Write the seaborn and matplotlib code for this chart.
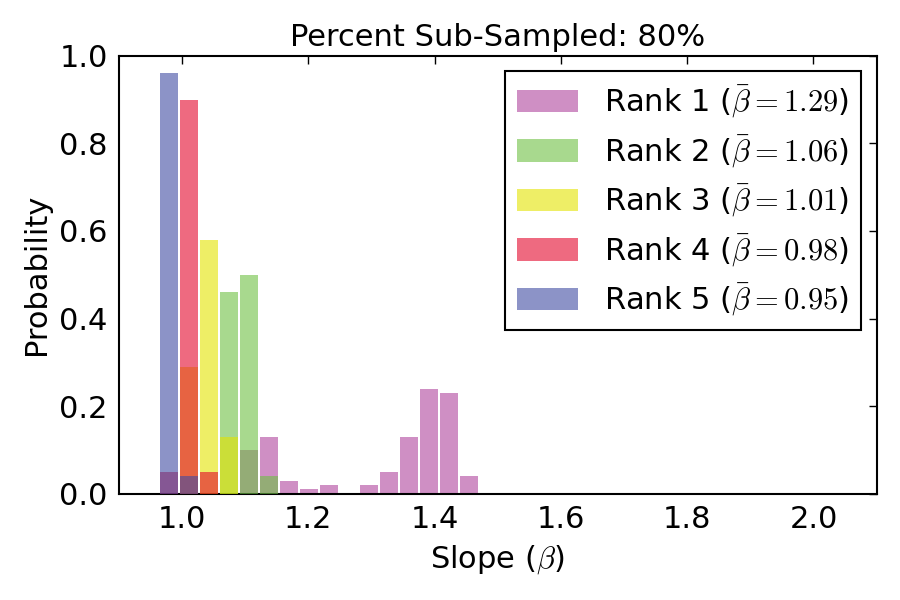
import numpy as np
import pandas as pd
import seaborn as sns
import matplotlib.pyplot as plt
from matplotlib.patches import Patch

# ----- Data (probability per slope bin) -----
bin_start = 0.963
bin_width = 0.0317
n_bins = 16

rank_names = ["Rank 1", "Rank 2", "Rank 3", "Rank 4", "Rank 5"]
rank_means = [1.29, 1.06, 1.01, 0.98, 0.95]
rank1_probs = [0, 0, 0, 0, 0.10, 0.13, 0.03, 0.01, 0.02, 0, 0.02, 0.05, 0.13, 0.24, 0.23, 0.04]
rank2_probs = [0, 0, 0, 0.46, 0.50, 0.04, 0, 0, 0, 0, 0, 0, 0, 0, 0, 0]
rank3_probs = [0, 0.29, 0.58, 0.13, 0, 0, 0, 0, 0, 0, 0, 0, 0, 0, 0, 0]
rank4_probs = [0.05, 0.90, 0.05, 0, 0, 0, 0, 0, 0, 0, 0, 0, 0, 0, 0, 0]
rank5_probs = [0.96, 0.04, 0, 0, 0, 0, 0, 0, 0, 0, 0, 0, 0, 0, 0, 0]
rank_colors = ["#af449d", "#6ec143", "#e3e300", "#e3072b", "#3f4ba3"]

all_probs = [rank1_probs, rank2_probs, rank3_probs, rank4_probs, rank5_probs]
bin_end = bin_start + bin_width * n_bins
centers = bin_start + bin_width * (np.arange(n_bins) + 0.5)

# ----- Style -----
sns.set_style("white")
plt.rcParams['font.family'] = ['DejaVu Sans']
plt.rcParams['mathtext.fontset'] = 'cm'
plt.rcParams['text.color'] = 'black'
plt.rcParams['axes.labelcolor'] = 'black'
plt.rcParams['xtick.color'] = 'black'
plt.rcParams['ytick.color'] = 'black'
plt.rcParams['xtick.direction'] = 'in'
plt.rcParams['ytick.direction'] = 'in'
plt.rcParams['xtick.top'] = True
plt.rcParams['ytick.right'] = True

fig, ax = plt.subplots(figsize=(9, 6), dpi=100)
fig.subplots_adjust(left=0.132, right=0.974, top=0.907, bottom=0.177)

handles = []
for i, name in enumerate(rank_names):
    df = pd.DataFrame({'slope': centers, 'prob': all_probs[i]})
    sns.histplot(data=df, x='slope', weights='prob', bins=n_bins,
                 binrange=(bin_start, bin_end), shrink=0.9,
                 color=rank_colors[i], alpha=0.6, edgecolor='none', linewidth=0,
                 zorder=2 + i, ax=ax)
    label = name + r" ($\bar{\beta}=%.2f$)" % rank_means[i]
    handles.append(Patch(facecolor=rank_colors[i], alpha=0.6, edgecolor='none', label=label))

ax.set_xlim(0.9, 2.1)
ax.set_ylim(0, 1.0)
ax.set_xticks([1.0, 1.2, 1.4, 1.6, 1.8, 2.0])
ax.set_yticks([0.0, 0.2, 0.4, 0.6, 0.8, 1.0])
ax.tick_params(labelsize=22, length=6, width=1, color='black', pad=8)
for s in ax.spines.values():
    s.set_color('black')
    s.set_linewidth(1.5)

ax.set_xlabel(r"Slope ($\beta$)", fontsize=22, labelpad=7)
ax.set_ylabel("Probability", fontsize=22, labelpad=6)
ax.set_title("Percent Sub-Sampled: 80%", fontsize=22, pad=7)

leg = ax.legend(handles=handles, loc='upper right', fontsize=22, frameon=True,
                fancybox=False, handlelength=2.0, handleheight=0.75,
                handletextpad=0.85, labelspacing=0.42, borderpad=0.4,
                borderaxespad=0.5)
leg.get_frame().set_edgecolor('black')
leg.get_frame().set_linewidth(1.5)
leg.get_frame().set_alpha(1)

fig.savefig("out.png", dpi=100)
